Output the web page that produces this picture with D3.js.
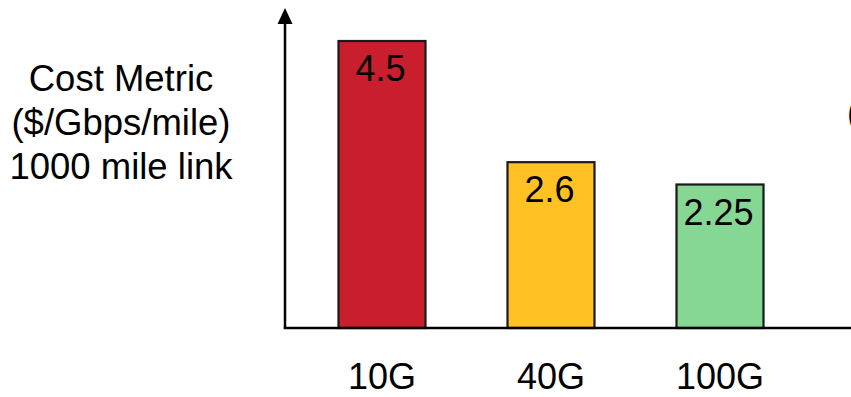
<!DOCTYPE html>
<html>
<head>
<meta charset="utf-8">
<script src="https://cdn.jsdelivr.net/npm/d3@7"></script>
<style>
  html, body { margin: 0; padding: 0; background: #fff; }
  svg { display: block; }
  text { font-family: "Liberation Sans", Arial, sans-serif; fill: #000; }
</style>
</head>
<body>
<script>
const categories = ["10G", "40G", "100G"];
const values = [4.5, 2.6, 2.25];
const valueLabels = ["4.5", "2.6", "2.25"];
const barColors = ["#C81E2D", "#FFC124", "#86D694"];
const yTitleLines = ["Cost Metric", "($/Gbps/mile)", "1000 mile link"];

const W = 851, H = 397;
const svg = d3.select("body").append("svg").attr("width", W).attr("height", H);

const axisX = 285, axisY = 328;
const x = d3.scalePoint().domain(categories).range([382, 720]);
const y = d3.scaleLinear().domain([0, 4.5]).range([axisY, 41]);
const barW = 87;

// bars
svg.selectAll("rect.bar").data(values).join("rect")
  .attr("class", "bar")
  .attr("x", (d, i) => x(categories[i]) - barW / 2)
  .attr("y", d => y(d))
  .attr("width", barW)
  .attr("height", d => y(0) - y(d))
  .attr("fill", (d, i) => barColors[i])
  .attr("stroke", "#1a1a1a")
  .attr("stroke-width", 2.2);

// value labels inside bars
svg.selectAll("text.val").data(values).join("text")
  .attr("class", "val")
  .attr("x", (d, i) => x(categories[i]) - 1.5)
  .attr("y", d => y(d) + 40)
  .attr("text-anchor", "middle")
  .attr("font-size", 36)
  .text((d, i) => valueLabels[i]);

// category labels
svg.selectAll("text.cat").data(categories).join("text")
  .attr("class", "cat")
  .attr("x", d => x(d))
  .attr("y", 389)
  .attr("text-anchor", "middle")
  .attr("font-size", 36)
  .text(d => d);

// axes
svg.append("line")
  .attr("x1", axisX).attr("x2", axisX)
  .attr("y1", axisY + 1).attr("y2", 22)
  .attr("stroke", "#000").attr("stroke-width", 2.5);
svg.append("path")
  .attr("d", `M${axisX},8 L${axisX - 7.5},24 L${axisX + 7.5},24 Z`)
  .attr("fill", "#000");
svg.append("line")
  .attr("x1", axisX - 1.2).attr("x2", W)
  .attr("y1", axisY).attr("y2", axisY)
  .attr("stroke", "#000").attr("stroke-width", 2.5);

// y title
svg.append("text")
  .attr("text-anchor", "middle")
  .attr("font-size", 36.5)
  .selectAll("tspan").data(yTitleLines).join("tspan")
  .attr("x", 121)
  .attr("y", (d, i) => 90.7 + i * 44.3)
  .text(d => d);

// cropped text at right edge
svg.append("text")
  .attr("x", 847).attr("y", 125)
  .attr("font-size", 36)
  .text("(");
</script>
</body>
</html>
